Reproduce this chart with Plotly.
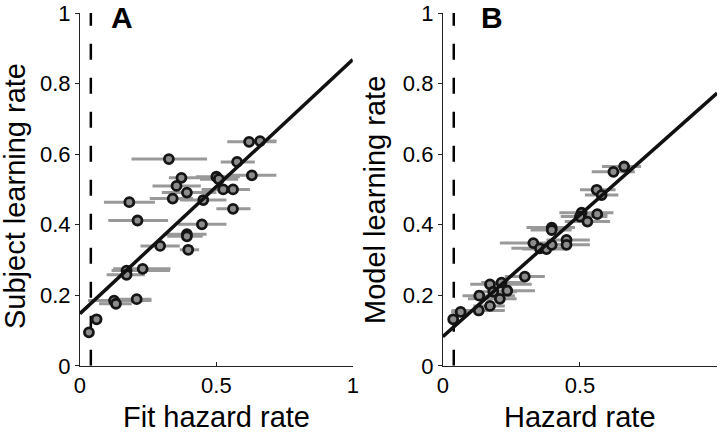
import plotly.graph_objects as go

# Panel A: subject learning rate vs fit hazard rate
a_x = [0.620, 0.660, 0.326, 0.576, 0.372, 0.500, 0.509, 0.630, 0.354, 0.525,
       0.561, 0.392, 0.340, 0.452, 0.181, 0.561, 0.211, 0.447, 0.392, 0.392,
       0.294, 0.397, 0.171, 0.171, 0.230, 0.125, 0.132, 0.208, 0.061, 0.033]
a_y = [0.635, 0.637, 0.586, 0.578, 0.533, 0.536, 0.529, 0.540, 0.510, 0.500,
       0.500, 0.491, 0.474, 0.470, 0.464, 0.445, 0.412, 0.401, 0.373, 0.367,
       0.340, 0.329, 0.270, 0.258, 0.275, 0.185, 0.176, 0.189, 0.132, 0.095]
a_lo = [0.54, 0.60, 0.189, 0.516, 0.326, 0.425, 0.44, 0.537, 0.266, 0.446,
        0.49, 0.30, 0.256, 0.366, 0.088, 0.50, 0.104, 0.36, 0.311, 0.32,
        0.222, 0.366, 0.116, 0.098, 0.122, 0.030, 0.070, 0.134, 0.05, 0.03]
a_hi = [0.72, 0.72, 0.466, 0.641, 0.45, 0.586, 0.58, 0.72, 0.443, 0.623,
        0.62, 0.50, 0.415, 0.537, 0.275, 0.625, 0.323, 0.537, 0.464, 0.45,
        0.366, 0.437, 0.33, 0.238, 0.332, 0.262, 0.190, 0.262, 0.07, 0.04]
a_fit = (0.148, 0.72)  # intercept, slope

# Panel B: model learning rate vs hazard rate
b_x = [0.622, 0.661, 0.561, 0.579, 0.506, 0.500, 0.527, 0.563, 0.397, 0.397,
       0.330, 0.354, 0.378, 0.397, 0.451, 0.451, 0.299, 0.172, 0.214, 0.184,
       0.235, 0.133, 0.208, 0.172, 0.131, 0.065, 0.038]
b_y = [0.550, 0.565, 0.499, 0.484, 0.434, 0.423, 0.409, 0.430, 0.392, 0.385,
       0.348, 0.333, 0.331, 0.343, 0.357, 0.343, 0.253, 0.231, 0.236, 0.210,
       0.213, 0.199, 0.190, 0.170, 0.157, 0.153, 0.132]
b_lo = [0.543, 0.58, 0.50, 0.518, 0.425, 0.43, 0.445, 0.50, 0.305, 0.32,
        0.208, 0.25, 0.29, 0.33, 0.378, 0.385, 0.226, 0.10, 0.14, 0.12,
        0.16, 0.072, 0.092, 0.111, 0.032, 0.03, 0.03]
b_hi = [0.70, 0.723, 0.63, 0.64, 0.622, 0.60, 0.61, 0.60, 0.482, 0.47,
        0.40, 0.44, 0.45, 0.46, 0.536, 0.536, 0.372, 0.324, 0.30, 0.27,
        0.336, 0.263, 0.269, 0.226, 0.226, 0.10, 0.05]
b_fit = (0.083, 0.69)

dash_x = 0.04
x_ticks = [0, 0.5, 1]
x_tick_text = ["0", "0.5", "1"]
y_ticks = [0, 0.2, 0.4, 0.6, 0.8, 1]
y_tick_text = ["0", "0.2", "0.4", "0.6", "0.8", "1"]

FONT = "Liberation Sans, Arial, Helvetica, sans-serif"
fig = go.Figure()

panels = [
    ("x", "y", a_x, a_y, a_lo, a_hi, a_fit),
    ("x2", "y2", b_x, b_y, b_lo, b_hi, b_fit),
]
for xa, ya, xs, ys, lo, hi, fit in panels:
    fig.add_trace(go.Scatter(x=[dash_x, dash_x], y=[0, 1], mode="lines",
                             line=dict(color="black", width=2.5, dash="16px,18px"),
                             xaxis=xa, yaxis=ya, showlegend=False, hoverinfo="skip"))
    fig.add_trace(go.Scatter(
        x=xs, y=ys, mode="markers",
        error_x=dict(type="data", symmetric=False,
                     array=[h - v for h, v in zip(hi, xs)],
                     arrayminus=[v - l for v, l in zip(xs, lo)],
                     color="#999999", thickness=3, width=0),
        marker=dict(size=9, color="#8c8c8c", line=dict(color="#151515", width=2.8)),
        xaxis=xa, yaxis=ya, showlegend=False, cliponaxis=False))
    fig.add_trace(go.Scatter(x=[0, 1], y=[fit[0], fit[0] + fit[1]], mode="lines",
                             line=dict(color="#111111", width=3.5),
                             xaxis=xa, yaxis=ya, showlegend=False))

axis_common = dict(range=[0, 1], showline=True, linecolor="#222222", linewidth=1,
                   showgrid=False, zeroline=False, ticklen=4, tickcolor="#222222",
                   automargin=False,
                   tickfont=dict(family=FONT, size=22, color="black"))
fig.update_layout(
    width=720, height=434, margin=dict(l=0, r=0, t=0, b=0, pad=0, autoexpand=False),
    paper_bgcolor="white", plot_bgcolor="white",
    xaxis=dict(domain=[0.111, 0.490], tickvals=x_ticks, ticktext=x_tick_text,
               ticks="inside", anchor="y", **axis_common),
    yaxis=dict(domain=[0.157, 0.970], tickvals=y_ticks, ticktext=y_tick_text,
               ticks="outside", anchor="x", **axis_common),
    xaxis2=dict(domain=[0.615, 0.996], tickvals=x_ticks, ticktext=x_tick_text,
                ticks="inside", anchor="y2", **axis_common),
    yaxis2=dict(domain=[0.157, 0.970], tickvals=y_ticks, ticktext=y_tick_text,
                ticks="outside", anchor="x2", **axis_common),
)

ann = [
    dict(text="Subject learning rate", x=15, y=196, textangle=-90, size=29),
    dict(text="Model learning rate", x=375, y=200, textangle=-90, size=29),
    dict(text="Fit hazard rate", x=216, y=417, textangle=0, size=29),
    dict(text="Hazard rate", x=580, y=417, textangle=0, size=29),
]
for a in ann:
    fig.add_annotation(text=a["text"], x=a["x"] / 720, y=1 - a["y"] / 434,
                       xref="paper", yref="paper", showarrow=False,
                       textangle=a["textangle"], xanchor="center", yanchor="middle",
                       font=dict(family=FONT, size=a["size"], color="black"))
for label, px in [("A", 122), ("B", 492)]:
    fig.add_annotation(text="<b>%s</b>" % label, x=px / 720, y=1 - 17 / 434,
                       xref="paper", yref="paper", showarrow=False,
                       xanchor="center", yanchor="middle",
                       font=dict(family=FONT, size=30, color="black"))

fig.write_html("out.html", config={"displayModeBar": False},
               post_script="document.body.style.margin='0';")
